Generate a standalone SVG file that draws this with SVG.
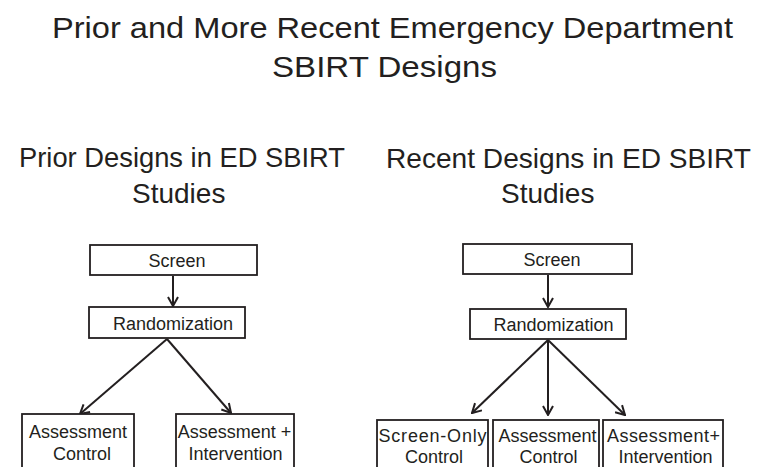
<svg xmlns="http://www.w3.org/2000/svg" width="759" height="467" viewBox="0 0 759 467">
<defs>
<style>
text{font-family:"Liberation Sans",Arial,Helvetica,sans-serif;fill:#231f20}
.t{font-size:30px;text-anchor:middle}
.s{font-size:28px}
.n{font-size:18px;text-anchor:middle}
.box{fill:#fff;stroke:#231f20;stroke-width:1.8}
.c{stroke:#231f20;stroke-width:2;fill:none}
</style>
<marker id="ah" viewBox="0 0 12 12" refX="11" refY="6" markerWidth="12" markerHeight="12" markerUnits="userSpaceOnUse" orient="auto">
<path d="M2,1 L11,6 L2,11" fill="none" stroke="#231f20" stroke-width="2"/>
</marker>
</defs>
<rect width="759" height="467" fill="#fff"/>
<g id="title">
<text class="t" x="392.5" y="38" textLength="681" lengthAdjust="spacingAndGlyphs">Prior and More Recent Emergency Department</text>
<text class="t" x="384.5" y="77" textLength="225" lengthAdjust="spacingAndGlyphs">SBIRT Designs</text>
</g>
<g id="sub-left">
<text class="s" x="19" y="167" textLength="326" lengthAdjust="spacingAndGlyphs">Prior Designs in ED SBIRT</text>
<text class="s" x="132" y="203">Studies</text>
</g>
<g id="sub-right">
<text class="s" x="386" y="168" textLength="365" lengthAdjust="spacingAndGlyphs">Recent Designs in ED SBIRT</text>
<text class="s" x="501" y="203">Studies</text>
</g>
<g id="connectors">
<line class="c" x1="173" y1="276" x2="173" y2="306" marker-end="url(#ah)"/>
<line class="c" x1="167" y1="339" x2="80" y2="414" marker-end="url(#ah)"/>
<line class="c" x1="167" y1="339" x2="231" y2="413" marker-end="url(#ah)"/>
<line class="c" x1="548" y1="275" x2="548" y2="307" marker-end="url(#ah)"/>
<line class="c" x1="548" y1="340" x2="472" y2="413" marker-end="url(#ah)"/>
<line class="c" x1="548" y1="340" x2="548" y2="415" marker-end="url(#ah)"/>
<line class="c" x1="548" y1="340" x2="625" y2="415" marker-end="url(#ah)"/>
</g>
<g id="l-screen">
<rect class="box" x="90" y="245" width="167" height="30"/>
<text class="n" x="177" y="267">Screen</text>
</g>
<g id="l-rand">
<rect class="box" x="89" y="307" width="156" height="31"/>
<text class="n" x="173" y="330">Randomization</text>
</g>
<g id="l-ac">
<rect class="box" x="22" y="414" width="112" height="70"/>
<text class="n" x="78" y="438">Assessment</text>
<text class="n" x="82" y="460">Control</text>
</g>
<g id="l-ai">
<rect class="box" x="176" y="414" width="118" height="70"/>
<text class="n" x="234.5" y="438">Assessment +</text>
<text class="n" x="235.5" y="460">Intervention</text>
</g>
<g id="r-screen">
<rect class="box" x="463" y="244" width="169" height="30"/>
<text class="n" x="552" y="266">Screen</text>
</g>
<g id="r-rand">
<rect class="box" x="470" y="309" width="156" height="30"/>
<text class="n" x="553.5" y="331">Randomization</text>
</g>
<g id="r-so">
<rect class="box" x="377" y="420" width="111" height="70"/>
<text class="n" x="432.5" y="442" textLength="108" lengthAdjust="spacing">Screen-Only</text>
<text class="n" x="434" y="463">Control</text>
</g>
<g id="r-ac">
<rect class="box" x="493" y="420" width="106" height="70"/>
<text class="n" x="547.5" y="442">Assessment</text>
<text class="n" x="548.5" y="463">Control</text>
</g>
<g id="r-ai">
<rect class="box" x="603" y="420" width="120" height="70"/>
<text class="n" x="663.5" y="442" textLength="113" lengthAdjust="spacing">Assessment+</text>
<text class="n" x="665.5" y="463">Intervention</text>
</g>
</svg>
